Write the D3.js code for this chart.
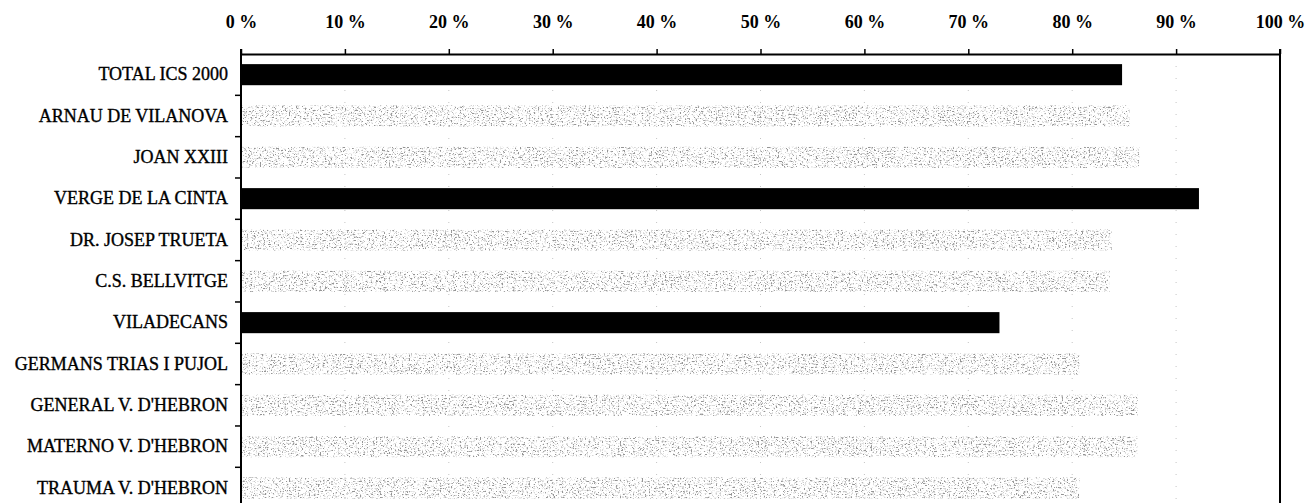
<!DOCTYPE html>
<html>
<head>
<meta charset="utf-8">
<script src="https://cdn.jsdelivr.net/npm/d3@7"></script>
<style>
  html, body { margin: 0; padding: 0; background: #fff; }
  svg { display: block; }
  .xaxis text { font-family: "Liberation Serif", "Times New Roman", serif; font-weight: bold; font-size: 18px; fill: #000; }
  .yaxis text { font-family: "Liberation Serif", "Times New Roman", serif; font-size: 18px; fill: #000; stroke: #000; stroke-width: 0.35px; }
</style>
</head>
<body>
<div id="chart"></div>
<script>
const categories = [
  "TOTAL ICS 2000",
  "ARNAU DE VILANOVA",
  "JOAN XXIII",
  "VERGE DE LA CINTA",
  "DR. JOSEP TRUETA",
  "C.S. BELLVITGE",
  "VILADECANS",
  "GERMANS TRIAS I PUJOL",
  "GENERAL V. D'HEBRON",
  "MATERNO V. D'HEBRON",
  "TRAUMA V. D'HEBRON"
];
const values = [84.8, 85.5, 86.5, 92.2, 83.8, 83.6, 73.0, 80.7, 86.3, 86.3, 80.7];
const solidCategories = ["TOTAL ICS 2000", "VERGE DE LA CINTA", "VILADECANS"];
const tickValues = [0, 10, 20, 30, 40, 50, 60, 70, 80, 90, 100];

const W = 1310, H = 503;
const mLeft = 241, mRight = 1280, mTop = 54;
const step = 41.33;
const mBottom = mTop + step * categories.length;

const svg = d3.select("#chart").append("svg").attr("width", W).attr("height", H);

// speckled texture for the grey bars
const defs = svg.append("defs");
const f = defs.append("filter").attr("id", "stipple")
  .attr("x", 0).attr("y", 0).attr("width", 1).attr("height", 1)
  .attr("filterUnits", "objectBoundingBox");
f.append("feTurbulence").attr("type", "fractalNoise")
  .attr("baseFrequency", "0.45 0.6").attr("numOctaves", 3).attr("seed", 7).attr("result", "n1");
f.append("feColorMatrix").attr("in", "n1").attr("type", "matrix")
  .attr("values", "0 0 0 0 0.68  0 0 0 0 0.68  0 0 0 0 0.68  7 0 0 0 -3.95").attr("result", "light");
f.append("feTurbulence").attr("type", "fractalNoise")
  .attr("baseFrequency", "0.55 0.7").attr("numOctaves", 2).attr("seed", 23).attr("result", "n2");
f.append("feColorMatrix").attr("in", "n2").attr("type", "matrix")
  .attr("values", "0 0 0 0 0.3  0 0 0 0 0.3  0 0 0 0 0.3  9 0 0 0 -5.5").attr("result", "dark");
const m = f.append("feMerge").attr("result", "dots");
m.append("feMergeNode").attr("in", "light");
m.append("feMergeNode").attr("in", "dark");
f.append("feComposite").attr("in", "dots").attr("in2", "SourceGraphic").attr("operator", "in");

const x = d3.scaleLinear().domain([0, 100]).range([mLeft, mRight]);
const y = d3.scaleBand().domain(categories).range([mTop, mBottom])
  .paddingInner(0.49).paddingOuter(0.245);

// faint dotted gridlines
svg.append("g").selectAll("line").data(tickValues.slice(1, -1)).join("line")
  .attr("x1", d => x(d)).attr("x2", d => x(d))
  .attr("y1", mTop).attr("y2", H)
  .attr("stroke", "#c4c4c4").attr("stroke-width", 1)
  .attr("stroke-dasharray", "1,11");

// bars
svg.append("g").selectAll("rect").data(categories).join("rect")
  .attr("x", x(0))
  .attr("y", d => y(d))
  .attr("width", (d, i) => x(values[i]) - x(0))
  .attr("height", y.bandwidth())
  .attr("fill", d => solidCategories.includes(d) ? "#000" : "#fff")
  .attr("filter", d => solidCategories.includes(d) ? null : "url(#stipple)");

// top axis
const xAxis = d3.axisTop(x).tickValues(tickValues).tickFormat(d => d + " %")
  .tickSize(5).tickSizeOuter(0).tickPadding(21);
const gx = svg.append("g").attr("class", "xaxis").attr("transform", `translate(0,${mTop})`).call(xAxis);
gx.select(".domain").attr("stroke", "#000").attr("stroke-width", 2);
gx.selectAll(".tick line").attr("stroke", "#000").attr("stroke-width", 1.5);

// left axis labels
const yAxis = d3.axisLeft(y).tickSize(0).tickPadding(13);
const gy = svg.append("g").attr("class", "yaxis").attr("transform", `translate(${mLeft},0)`).call(yAxis);
gy.select(".domain").remove();

// left ticks between categories
svg.append("g").selectAll("line").data(categories.slice(1)).join("line")
  .attr("x1", mLeft - 6).attr("x2", mLeft)
  .attr("y1", d => y(d) - y.step() * y.paddingInner() / 2)
  .attr("y2", d => y(d) - y.step() * y.paddingInner() / 2)
  .attr("stroke", "#000").attr("stroke-width", 1.5);

// frame lines
svg.append("line").attr("x1", mLeft).attr("x2", mLeft).attr("y1", mTop - 5).attr("y2", H)
  .attr("stroke", "#000").attr("stroke-width", 2);
svg.append("line").attr("x1", mRight).attr("x2", mRight).attr("y1", mTop - 5).attr("y2", H)
  .attr("stroke", "#000").attr("stroke-width", 2);
</script>
</body>
</html>
